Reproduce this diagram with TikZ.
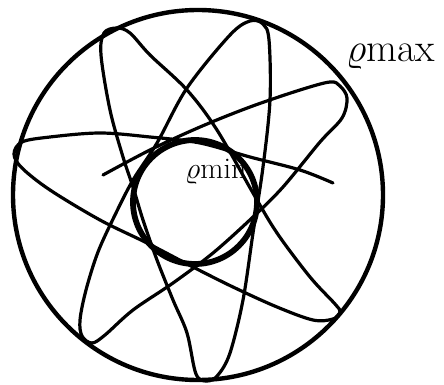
\documentclass[tikz,border=0pt]{standalone}
\usepackage{fix-cm}
\usetikzlibrary{positioning}
\begin{document}
\begin{tikzpicture}[x=1pt, y=-1pt,
  rim/.style={draw, line width=4.4pt},
  core/.style={draw, line width=5.8pt},
  orbit/.style={line width=3.2pt, line cap=round, line join=round},
  lbl/.style={inner sep=0pt, anchor=base west},
]
\useasboundingbox (0,0) rectangle (444,385);
% labels first, the strokes go over them
\node[lbl, font=\fontsize{40}{44}\selectfont] (rhomax) at (346,62) {$\varrho$max};
\node[lbl, font=\fontsize{30}{34}\selectfont] (rhomin) at (185,178) {$\varrho$min};
% outer and inner bound
\draw[rim] (198,195) circle[radius=185];
\draw[core] (195,202) circle[radius=62];
% the rosette, traced apex by apex
\draw[orbit] plot[smooth, tension=0.55] coordinates {
  (103,175) (150,150) (200,127) (250,107) (300,90) (330,82)
  (340,86) (347,98)
  (342,118) (320,142) (283,187) (253,217) (213,253) (173,283) (133,310) (105,335)
  (92,343) (82,336)
  (80,320) (86,290) (98,252) (115,215) (133,180) (157,143) (187,88) (230,35)
  (250,21) (263,24)
  (269,40) (270,100) (263,167) (253,233) (243,300) (230,353) (218,375)
  (207,381) (196,374)
  (187,333) (173,300) (157,260) (143,220) (133,187) (123,157) (110,110) (101,55)
  (104,33) (117,28) (130,33)
  (150,55) (187,90) (217,130) (253,193) (277,233) (310,277) (335,304)
  (340,312) (333,319)
  (313,320) (277,307) (233,287) (193,267) (147,243) (100,220) (50,190) (22,168)
  (14,154) (22,142)
  (50,137) (100,133) (150,137) (200,143) (250,157) (300,170) (333,183)};
\end{tikzpicture}
\end{document}
